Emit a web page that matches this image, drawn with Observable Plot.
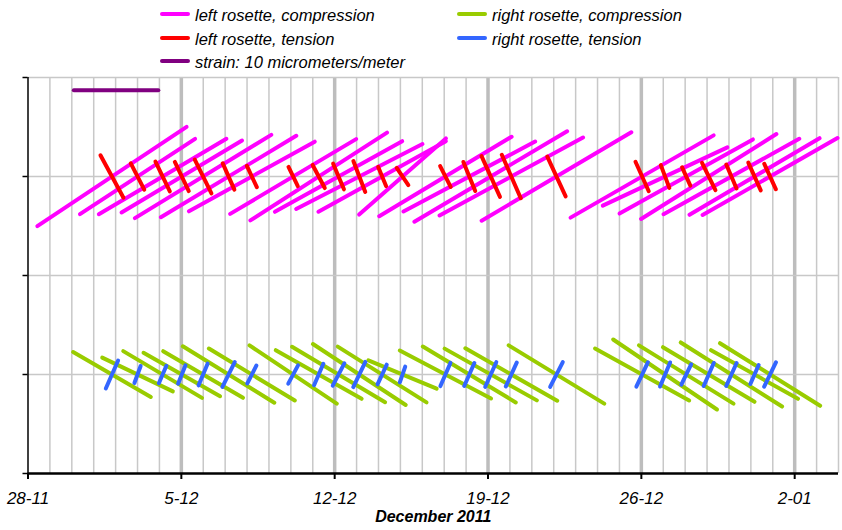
<!DOCTYPE html>
<html><head><meta charset="utf-8">
<script src="https://cdn.jsdelivr.net/npm/d3@7"></script>
<script src="https://cdn.jsdelivr.net/npm/@observablehq/plot@0.6"></script>
<style>
body{margin:0;background:#fff;font-family:"Liberation Sans",Arial,sans-serif;}
#legend{position:relative;width:842px;height:72px;font-style:italic;font-size:16.5px;color:#000;}
.sw{position:absolute;width:30px;height:4px;border-radius:2px;}
.lb{position:absolute;line-height:20px;white-space:nowrap;}
</style></head><body>
<div id="legend"></div><div id="chart"></div>
<script>
// measurement times (UTC)
const times = ["2011-12-01T20:00Z","2011-12-03T00:00Z","2011-12-04T03:30Z","2011-12-05T00:30Z","2011-12-05T23:50Z",
  "2011-12-07T03:45Z","2011-12-08T05:15Z","2011-12-10T02:30Z","2011-12-11T06:30Z","2011-12-12T04:15Z",
  "2011-12-13T03:00Z","2011-12-14T04:00Z","2011-12-15T02:20Z","2011-12-17T01:20Z","2011-12-18T03:30Z",
  "2011-12-19T03:00Z","2011-12-20T01:30Z","2011-12-22T03:00Z","2011-12-26T00:50Z","2011-12-27T02:00Z",
  "2011-12-28T01:10Z","2011-12-29T01:50Z","2011-12-30T02:40Z","2011-12-31T04:00Z","2011-12-31T21:00Z"];
// principal strains (micrometers/meter) and directions (degrees)
const leftCompStrain = [20.7,16.0,17.2,16.3,18.5,18.3,16.7,17.0,18.8,16.9,16.5,16.9,13.5,17.9,17.3,20.5,18.9,20.1,19.1,16.0,17.7,18.5,18.0,17.5,18.0];
const leftCompAngle  = [33.6,33.2,30.6,30.8,31.4,31.0,29.0,30.7,32.7,29.0,27.2,28.9,41.3,31.0,28.0,30.6,28.5,30.6,29.9,25.1,29.1,32.1,29.1,30.5,29.7];
const leftTenStrain  = [5.9,3.8,4.2,4.1,4.7,3.7,3.1,2.85,3.4,3.6,4.2,2.8,2.8,3.1,4.0,5.5,5.8,5.4,4.1,3.2,2.7,3.9,3.4,3.9,3.6];
const leftTenAngle   = [-61.5,-63.0,-64.3,-64.4,-63.7,-66.1,-64.9,-64.1,-62.3,-67.2,-69.0,-67.7,-55.9,-63.3,-67.8,-65.6,-66.4,-65.2,-65.8,-69.5,-65.6,-64.0,-66.8,-65.9,-65.6];
const rightCompStrain = [10.6,9.3,10.8,10.4,10.9,12.6,11.8,12.3,11.6,12.7,13.0,12.3,8.8,12.1,12.7,12.4,12.4,13.1,12.6,14.6,13.0,12.5,14.0,11.7,13.8];
const rightCompAngle  = [-30.1,-25.6,-30.7,-29.6,-30.3,-31.7,-31.2,-33.7,-29.5,-30.8,-33.3,-32.1,-22.5,-27.7,-31.0,-29.3,-29.7,-31.4,-28.9,-34.0,-31.6,-30.8,-32.3,-29.2,-32.0];
const rightTenStrain  = [3.9,2.5,2.6,2.7,3.1,3.6,2.7,2.8,3.1,3.3,3.6,2.9,2.35,3.3,3.3,3.5,3.4,3.6,3.5,3.4,3.0,3.3,3.3,2.8,3.5];
const rightTenAngle   = [66.2,69.9,66.8,68.1,67.4,63.7,63.1,61.9,66.7,62.6,64.2,64.8,71.2,66.6,66.3,65.8,65.4,63.0,64.7,67.3,64.3,66.4,65.7,66.5,64.2];
const leftBase = 3, rightBase = 1;
// strain scale bar
const barStart = "2011-11-30T00:00Z", barStrain = 10, barLevel = 3.87;
// axis ticks
const xTicks = ["2011-11-28","2011-12-05","2011-12-12","2011-12-19","2011-12-26","2012-01-02"];
const xLabel = "December 2011";
const legendItems = [
  {label:"left rosette, compression", color:"#ff00ff"},
  {label:"right rosette, compression", color:"#99cc00"},
  {label:"left rosette, tension", color:"#ff0000"},
  {label:"right rosette, tension", color:"#3366ff"},
  {label:"strain: 10 micrometers/meter", color:"#800080"}
];

// legend
const legendPos = [[160,14],[457,14],[160,38],[457,38],[160,61]];
const lg = document.getElementById("legend");
legendItems.forEach((it,i)=>{
  const [lx,ly] = legendPos[i];
  const s = document.createElement("div"); s.className="sw";
  s.style.left=lx+"px"; s.style.top=(ly-2)+"px"; s.style.background=it.color; lg.appendChild(s);
  const t = document.createElement("div"); t.className="lb";
  t.style.left=(lx+35)+"px"; t.style.top=(ly-9)+"px"; t.textContent=it.label; lg.appendChild(t);
});

const W=842, H=458, mL=27.5, mR=4, mT=5, mB=57;
const xStart = new Date("2011-11-28T00:00Z"), xEnd = new Date("2012-01-04T00:00Z");
const DAY = 864e5;
const pxPerDay = (W-mL-mR)/((xEnd-xStart)/DAY);
const pxPerUnit = (H-mT-mB)/4;
const pxPerStrain = 8.85;   // drawing scale: 10 micrometers/meter ~ 88.5 px
const cap = 2;              // round line-cap allowance in px

function seg(t, s, a, base){
  const half = s*pxPerStrain/2 - cap, r = a*Math.PI/180;
  const dxms = half*Math.cos(r)/pxPerDay*DAY, dyu = half*Math.sin(r)/pxPerUnit;
  const tc = new Date(t);
  return {x1:new Date(+tc-dxms), x2:new Date(+tc+dxms), y1:base-dyu, y2:base+dyu};
}
const build = (S,A,base)=>times.map((t,i)=>seg(t,S[i],A[i],base));
const lc = build(leftCompStrain,leftCompAngle,leftBase);
const lt = build(leftTenStrain,leftTenAngle,leftBase);
const rc = build(rightCompStrain,rightCompAngle,rightBase);
const rt = build(rightTenStrain,rightTenAngle,rightBase);
const b0 = new Date(barStart);
const bar = [{x1:new Date(+b0 + cap/pxPerDay*DAY), x2:new Date(+b0 + (barStrain*pxPerStrain-cap)/pxPerDay*DAY), y1:barLevel, y2:barLevel}];

const days = d3.utcDay.range(d3.utcDay.offset(xStart,1), d3.utcDay.offset(xEnd,1));
const weeks = d3.utcMonday.range(xStart, xEnd).filter(d=>+d>+xStart);
const lineOpts = {x1:"x1",x2:"x2",y1:"y1",y2:"y2",strokeWidth:4,strokeLinecap:"round"};

const chart = Plot.plot({
  width:W, height:H, marginLeft:mL, marginRight:mR, marginTop:mT, marginBottom:mB,
  x:{type:"utc", domain:[xStart,xEnd]},
  y:{domain:[0,4]},
  style:{fontFamily:"'Liberation Sans', Arial, sans-serif", fontSize:"17px", fontStyle:"italic", background:"#fff", overflow:"visible"},
  marks:[
    Plot.ruleX(days, {stroke:"#c8c8c8", strokeWidth:1.5}),
    Plot.ruleX(weeks, {stroke:"#bdbdbd", strokeWidth:3.5}),
    Plot.ruleY([1,2,3,4], {stroke:"#c8c8c8", strokeWidth:1.5}),
    Plot.link(bar, {...lineOpts, stroke:"#800080"}),
    Plot.link(lc, {...lineOpts, stroke:"#ff00ff"}),
    Plot.link(lt, {...lineOpts, stroke:"#ff0000"}),
    Plot.link(rc, {...lineOpts, stroke:"#99cc00"}),
    Plot.link(rt, {...lineOpts, stroke:"#3366ff"}),
    Plot.ruleX([xStart], {stroke:"#000", strokeWidth:1.5}),
    Plot.ruleY([0], {stroke:"#000", strokeWidth:2.5}),
    Plot.axisY({ticks:[0,1,2,3,4], tickSize:5, tickFormat:()=>"", strokeWidth:1.5, label:null}),
    Plot.axisX({ticks:xTicks.map(d=>new Date(d+"T00:00Z")), tickFormat:d3.utcFormat("%-d-%m"), tickSize:6, tickPadding:12, strokeWidth:2, fontSize:17, label:null}),
    Plot.text([xLabel], {frameAnchor:"bottom", dy:48, fontWeight:"bold", fontSize:16})
  ]
});
document.getElementById("chart").appendChild(chart);
</script></body></html>
